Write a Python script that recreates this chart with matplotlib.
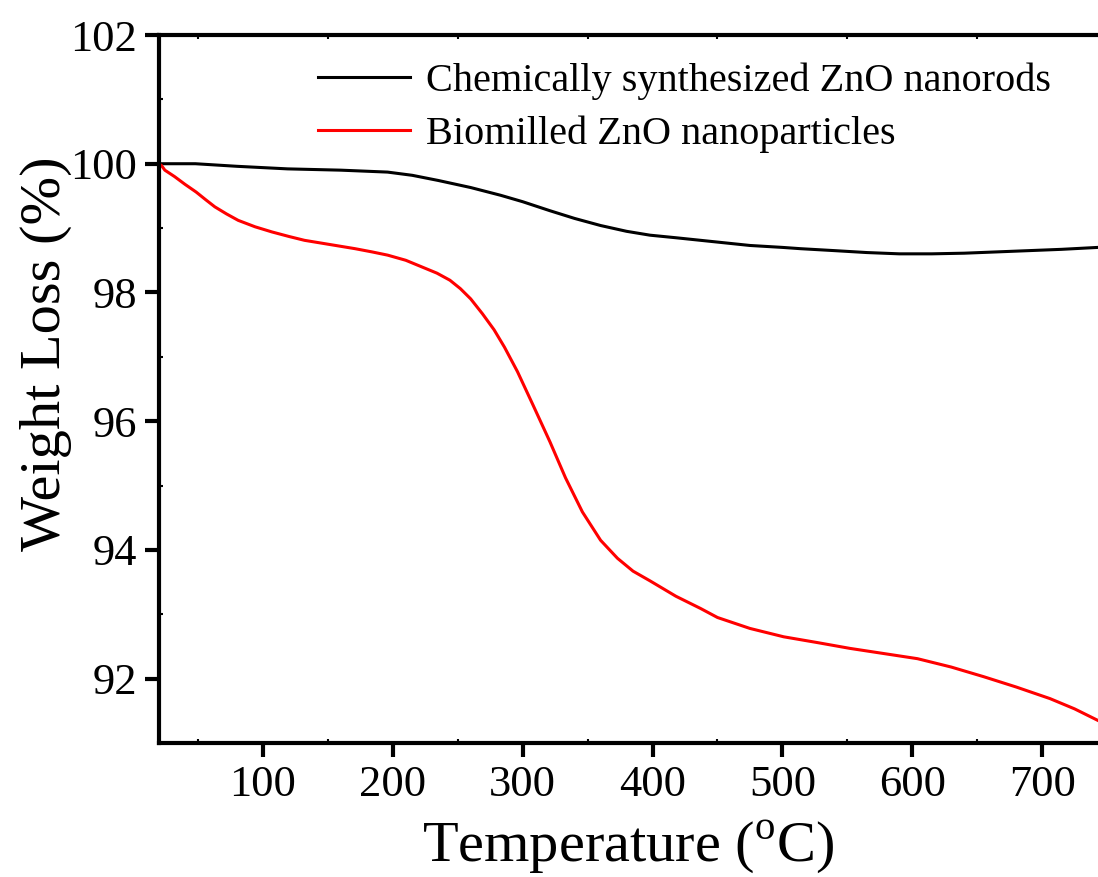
import matplotlib
matplotlib.use("Agg")
import matplotlib.pyplot as plt
from matplotlib.ticker import MultipleLocator

# Data
temp_chem = [20, 48, 80, 119, 160, 196, 215, 235, 260, 283, 300, 321, 340, 360, 380, 398,
             418, 437, 456, 475, 500, 514, 540, 565, 590, 615, 640, 665, 690, 715, 743]
wt_chem = [100.0, 100.0, 99.96, 99.92, 99.90, 99.87, 99.82, 99.74, 99.63, 99.51, 99.41, 99.27, 99.15, 99.04, 98.95, 98.89,
           98.85, 98.81, 98.77, 98.73, 98.70, 98.68, 98.65, 98.62, 98.60, 98.60, 98.61, 98.63, 98.65, 98.67, 98.70]

temp_bio = [20, 22, 24.5, 32, 40, 48.6, 56, 63, 72, 81, 94, 107, 120, 132, 150, 171, 184, 196, 210, 222, 234,
            244, 252, 260, 269, 278, 286, 296, 308, 321, 333, 346, 360, 373, 385, 398, 418, 437, 450, 475,
            501, 527, 552, 578, 604, 630, 655, 680, 706, 725, 743]
wt_bio = [100.0, 99.97, 99.90, 99.80, 99.68, 99.56, 99.44, 99.33, 99.22, 99.12, 99.02, 98.94, 98.87, 98.81, 98.75,
          98.68, 98.63, 98.58, 98.50, 98.40, 98.30, 98.19, 98.06, 97.90, 97.67, 97.42, 97.15, 96.77, 96.25, 95.68,
          95.12, 94.59, 94.15, 93.87, 93.67, 93.52, 93.28, 93.09, 92.95, 92.78, 92.65, 92.56, 92.47, 92.39, 92.31,
          92.18, 92.03, 91.87, 91.69, 91.53, 91.35]

labels = ["Chemically synthesized ZnO nanorods", "Biomilled ZnO nanoparticles"]
colors = ["black", "red"]

plt.rcParams['font.family'] = ['Liberation Serif', 'DejaVu Serif']
plt.rcParams['mathtext.fontset'] = 'custom'
plt.rcParams['mathtext.rm'] = 'Liberation Serif'

W, H = 1098, 877
fig = plt.figure(figsize=(W / 100, H / 100), dpi=100)
ax = fig.add_axes([159 / W, (H - 743) / H, (W - 159) / W, (743 - 35) / H])

ax.plot(temp_chem, wt_chem, color=colors[0], lw=2.2, label=labels[0], solid_joinstyle='round')
ax.plot(temp_bio, wt_bio, color=colors[1], lw=2.2, label=labels[1], solid_joinstyle='round')

ax.set_xlim(20, 743)
ax.set_ylim(91, 102)
ax.xaxis.set_major_locator(MultipleLocator(100))
ax.xaxis.set_minor_locator(MultipleLocator(50))
ax.yaxis.set_major_locator(MultipleLocator(2))
ax.yaxis.set_minor_locator(MultipleLocator(1))

for side in ['left', 'bottom', 'top']:
    ax.spines[side].set_linewidth(3)
ax.spines['right'].set_visible(False)

ax.tick_params(axis='both', which='major', direction='out', length=10, width=3,
               labelsize=32, pad=6)
ax.tick_params(axis='both', which='minor', direction='in', length=3, width=1.5)
ax.tick_params(axis='x', which='both', top=True, bottom=True)
ax.tick_params(axis='x', which='major', top=False)
ax.tick_params(axis='y', which='both', right=False)

ax.set_xlabel(r"Temperature ($^{\mathrm{o}}$C)", fontsize=42, labelpad=9)
ax.set_ylabel("Weight Loss (%)", fontsize=42)
ax.yaxis.set_label_coords(-0.093, 0.55)

leg = ax.legend(loc='upper left', bbox_to_anchor=(0.152, 0.984), frameon=False,
                fontsize=29, handlelength=2.3, handletextpad=0.38, labelspacing=0.39,
                borderaxespad=0)
for line in leg.get_lines():
    line.set_linewidth(2.2)

fig.savefig("out.png", dpi=100)
